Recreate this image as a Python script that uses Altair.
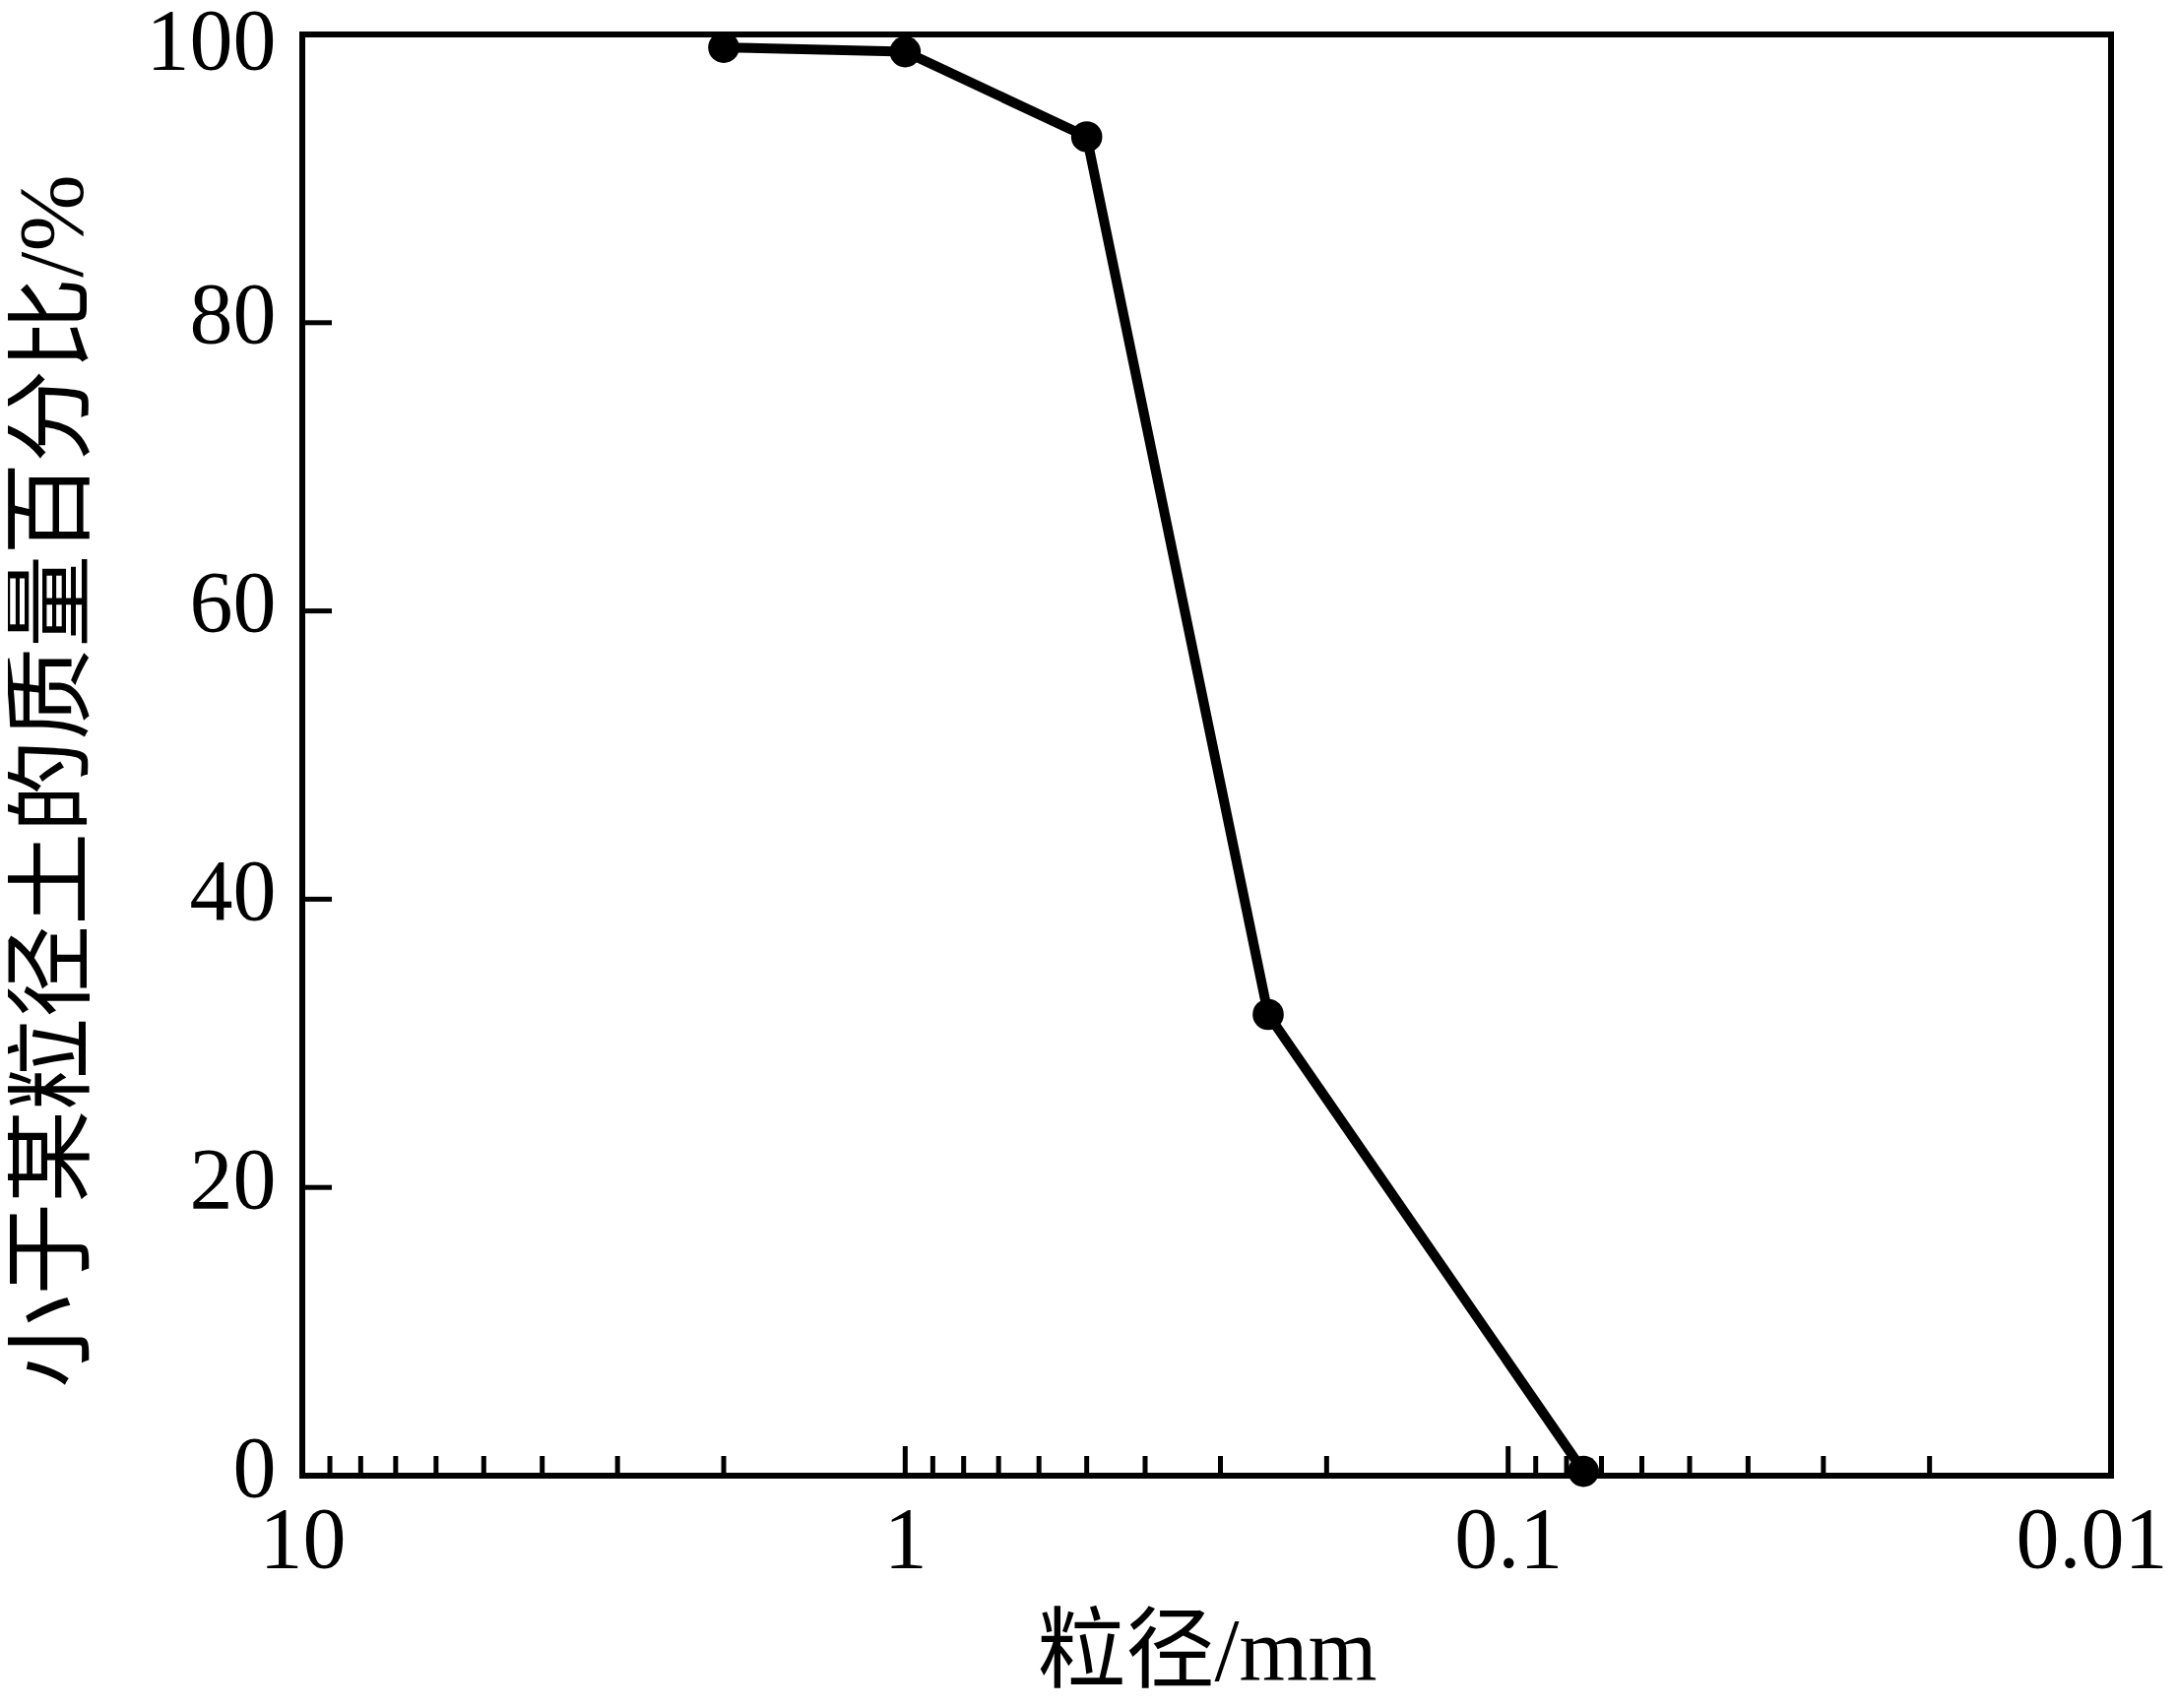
import altair as alt
import pandas as pd

# particle size (mm) and cumulative percent finer (%)
size_mm = [2, 1, 0.5, 0.25, 0.075]
pct_finer = [99.1, 98.8, 92.9, 32.0, 0.3]

x_label_values = [10, 1, 0.1, 0.01]
x_major_ticks = [1, 0.1]
x_minor_ticks = [9, 8, 7, 6, 5, 4, 3, 2,
                 0.9, 0.8, 0.7, 0.6, 0.5, 0.4, 0.3, 0.2,
                 0.09, 0.08, 0.07, 0.06, 0.05, 0.04, 0.03, 0.02]
y_tick_values = [0, 20, 40, 60, 80, 100]

x_title = "粒径/mm"
y_title = "小于某粒径土的质量百分比/%"

LATIN = "Liberation Serif"
MIXED = "Liberation Serif, Noto Sans CJK SC"

df = pd.DataFrame({"d": size_mm, "p": pct_finer})
df_xmaj = pd.DataFrame({"v": x_major_ticks})
df_xmin = pd.DataFrame({"v": x_minor_ticks})
df_y = pd.DataFrame({"v": y_tick_values})

x_scale = alt.Scale(type="log", domain=[0.01, 10], reverse=True)
y_scale = alt.Scale(domain=[0, 100], nice=False, zero=False)

x_axis = alt.Axis(
    values=x_label_values, format="~g", title=x_title,
    ticks=False, tickSize=0, domain=False, grid=False,
    labelFont=LATIN, labelFontSize=88, labelColor="black",
    labelPadding=22, labelFlush=False, labelOverlap=False, labelBound=False,
    labelOffset={"condition": {"test": "datum.value < 0.05", "value": -20}, "value": 0},
    titleFont=MIXED, titleFontSize=90, titleFontWeight="normal", titleColor="black",
    titleY=180, titleBaseline="middle",
)
y_axis = alt.Axis(
    values=y_tick_values, title=y_title,
    ticks=False, tickSize=0, domain=False, grid=False,
    labelFont=LATIN, labelFontSize=88, labelColor="black",
    labelPadding=27, labelFlush=False, labelOverlap=False, labelBound=False,
    labelOffset={"condition": {"test": "datum.value > 99", "value": 8}, "value": -6},
    titleFont=MIXED, titleFontSize=94, titleFontWeight="normal", titleColor="black",
    titleAngle=270, titleX=-253, titleY=758, titleAlign="center", titleBaseline="middle",
)

line = alt.Chart(df).mark_line(color="black", strokeWidth=10).encode(
    x=alt.X("d:Q", scale=x_scale, axis=x_axis),
    y=alt.Y("p:Q", scale=y_scale, axis=y_axis),
)
pts = alt.Chart(df).mark_circle(color="black", size=1000, opacity=1).encode(
    x=alt.X("d:Q", scale=x_scale, axis=x_axis),
    y=alt.Y("p:Q", scale=y_scale, axis=y_axis),
)
xmaj = alt.Chart(df_xmaj).mark_tick(orient="vertical", color="black", size=30,
                                    thickness=5, yOffset=-15, opacity=1).encode(
    x=alt.X("v:Q", scale=x_scale, axis=x_axis),
    y=alt.YDatum(0, type="quantitative", scale=y_scale, axis=y_axis),
)
xmin = alt.Chart(df_xmin).mark_tick(orient="vertical", color="black", size=20,
                                    thickness=5, yOffset=-10, opacity=1).encode(
    x=alt.X("v:Q", scale=x_scale, axis=x_axis),
    y=alt.YDatum(0, type="quantitative", scale=y_scale, axis=y_axis),
)
yt = alt.Chart(df_y).mark_tick(orient="horizontal", color="black", size=30,
                               thickness=5, xOffset=15, opacity=1).encode(
    y=alt.Y("v:Q", scale=y_scale, axis=y_axis),
    x=alt.XDatum(10, type="quantitative", scale=x_scale, axis=x_axis),
)

chart = alt.layer(xmaj, xmin, yt, line, pts).properties(
    width=1837, height=1464,
    autosize=alt.AutoSizeParams(type="none"),
    padding={"left": 299, "top": 27, "right": 58, "bottom": 227},
    background="white",
).configure_view(stroke="black", strokeWidth=6)

chart.save("out.html", embed_options={"renderer": "svg", "actions": False})
